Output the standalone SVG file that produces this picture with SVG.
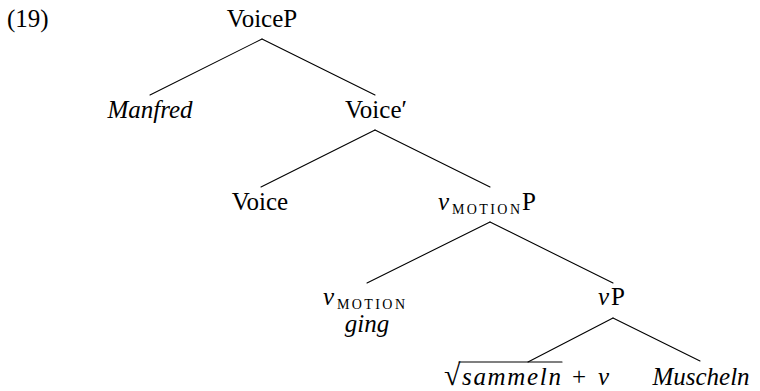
<svg xmlns="http://www.w3.org/2000/svg" width="760" height="391" viewBox="0 0 760 391" font-family="Liberation Serif, DejaVu Serif, serif" font-size="25">
<defs>
<style>
.it{font-style:italic}
.sc{font-size:14px}
.mid{text-anchor:middle}
.edge{stroke:#000;stroke-width:1.1;stroke-linecap:round}
</style>
</defs>
<rect width="760" height="391" fill="#fff"/>
<g id="label-19"><text x="7" y="27">(19)</text></g>
<g id="edges">
<line class="edge" x1="262" y1="39" x2="150" y2="95"/>
<line class="edge" x1="262" y1="39" x2="375" y2="95"/>
<line class="edge" x1="375" y1="130" x2="261" y2="187"/>
<line class="edge" x1="375" y1="130" x2="490" y2="187"/>
<line class="edge" x1="490" y1="222" x2="367" y2="283"/>
<line class="edge" x1="490" y1="222" x2="613" y2="283"/>
<line class="edge" x1="613" y1="318" x2="528" y2="362"/>
<line class="edge" x1="613" y1="318" x2="700" y2="361"/>
</g>
<g id="n-VoiceP"><text class="mid" x="262" y="27">VoiceP</text></g>
<g id="n-Manfred"><text class="mid it" x="150" y="118">Manfred</text></g>
<g id="n-VoiceBar"><text class="mid" x="376" y="118">Voice′</text></g>
<g id="n-Voice"><text class="mid" x="260" y="210">Voice</text></g>
<g id="n-vMotionP"><text y="210"><tspan class="it" x="438">v</tspan><tspan class="sc" x="452" dy="4" textLength="68">MOTION</tspan><tspan x="522" dy="-4">P</tspan></text></g>
<g id="n-vMotion"><text y="305"><tspan class="it" x="323">v</tspan><tspan class="sc" x="337" dy="4" textLength="68">MOTION</tspan></text><text class="mid it" x="367" y="332">ging</text></g>
<g id="n-vP"><text y="305"><tspan class="it" x="598">v</tspan><tspan x="611">P</tspan></text></g>
<g id="n-root"><text x="444" y="385" font-size="30">√</text><line class="edge" x1="459" y1="362" x2="562" y2="362"/><text class="it" x="462" y="385" textLength="99">sammeln</text><text x="572" y="385">+</text><text class="it" x="598" y="385">v</text></g>
<g id="n-Muscheln"><text class="mid it" x="701" y="385">Muscheln</text></g>
</svg>
